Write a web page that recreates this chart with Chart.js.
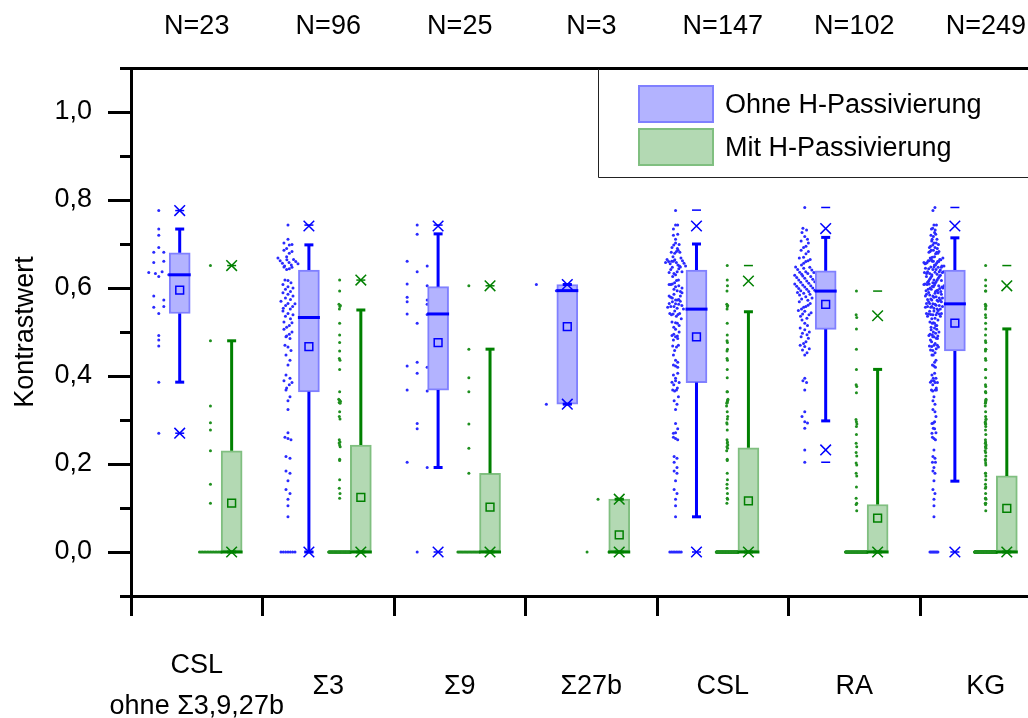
<!DOCTYPE html>
<html>
<head>
<meta charset="utf-8">
<script src="https://cdn.jsdelivr.net/npm/chart.js@4.4.0/dist/chart.umd.min.js"></script>
<style>
  html, body { margin: 0; padding: 0; background: #fff; overflow: hidden; }
  #wrap { width: 1028px; height: 718px; position: relative; }
  #wrap canvas { display: block; }
</style>
</head>
<body>
<div id="wrap"><canvas id="boxChart"></canvas></div>
<script>
// Categories / labels
const categories = [['CSL', 'ohne Σ3,9,27b'], 'Σ3', 'Σ9', 'Σ27b', 'CSL', 'RA', 'KG'];
const nLabels = ['N=23', 'N=96', 'N=25', 'N=3', 'N=147', 'N=102', 'N=249'];
const yTicks = [0, 0.2, 0.4, 0.6, 0.8, 1.0];
const yTickLabels = ['0,0', '0,2', '0,4', '0,6', '0,8', '1,0'];
const yMinorTicks = [-0.1, 0.1, 0.3, 0.5, 0.7, 0.9, 1.1];
const legendLabels = ['Ohne H-Passivierung', 'Mit H-Passivierung'];

// Single values, ohne H-Passivierung
const ohneCSLrest = [0.776, 0.734, 0.720, 0.692, 0.681, 0.658, 0.681, 0.661, 0.626, 0.635, 0.630, 0.637,
  0.633, 0.582, 0.573, 0.556, 0.558, 0.542, 0.492, 0.482, 0.468, 0.386, 0.270];
const ohneS3 = [0.743, 0.711, 0.702, 0.699, 0.698, 0.690, 0.686, 0.683, 0.679, 0.671, 0.668, 0.665,
  0.664, 0.662, 0.660, 0.658, 0.656, 0.655, 0.652, 0.650, 0.648, 0.647, 0.644, 0.642,
  0.618, 0.617, 0.612, 0.608, 0.603, 0.600, 0.597, 0.592, 0.589, 0.586, 0.582, 0.577,
  0.574, 0.570, 0.565, 0.564, 0.560, 0.558, 0.554, 0.552, 0.548, 0.542, 0.539, 0.536,
  0.530, 0.523, 0.521, 0.515, 0.511, 0.506, 0.500, 0.495, 0.491, 0.489, 0.485, 0.470,
  0.466, 0.458, 0.448, 0.436, 0.425, 0.402, 0.395, 0.389, 0.385, 0.380, 0.373, 0.368,
  0.353, 0.344, 0.324, 0.271, 0.261, 0.258, 0.255, 0.217, 0.213, 0.184, 0.179, 0.162,
  0.142, 0.133, 0.120, 0.105, 0.080, 0, 0, 0, 0, 0, 0, 0];
const ohneS9 = [0.743, 0.722, 0.661, 0.650, 0.637, 0.609, 0.605, 0.579, 0.573, 0.569, 0.563, 0.541,
  0.540, 0.520, 0.431, 0.423, 0.420, 0.406, 0.368, 0.366, 0.292, 0.280, 0.204, 0.192, 0];
const ohneS27b = [0.608, 0.594, 0.336];
const ohneRA = [0.783, 0.736, 0.732, 0.726, 0.717, 0.711, 0.707, 0.702, 0.695, 0.692, 0.686, 0.683,
  0.678, 0.670, 0.668, 0.665, 0.662, 0.660, 0.656, 0.652, 0.648, 0.647, 0.645, 0.642, 0.641,
  0.637, 0.636, 0.635, 0.633, 0.631, 0.629, 0.627, 0.626, 0.624, 0.622, 0.620, 0.618, 0.616,
  0.614, 0.613, 0.611, 0.609, 0.607, 0.605, 0.604, 0.602, 0.600, 0.599, 0.597, 0.595, 0.594,
  0.592, 0.590, 0.588, 0.586, 0.584, 0.580, 0.577, 0.575, 0.572, 0.569, 0.565, 0.561, 0.558,
  0.556, 0.552, 0.549, 0.547, 0.544, 0.541, 0.539, 0.536, 0.531, 0.527, 0.520, 0.515, 0.509,
  0.505, 0.500, 0.497, 0.494, 0.489, 0.486, 0.478, 0.474, 0.470, 0.467, 0.462, 0.459, 0.453,
  0.448, 0.395, 0.389, 0.385, 0.368, 0.319, 0.308, 0.296, 0.293, 0.281, 0.232, 0.204];

// Single values, mit H-Passivierung
const mitCSLrest = [0.651, 0.480, 0.332, 0.294, 0.277, 0.230, 0.154, 0.111,
  0, 0, 0, 0, 0, 0, 0, 0, 0, 0, 0, 0, 0, 0, 0];
const mitS3 = [0.618, 0.593, 0.563, 0.560, 0.558, 0.552, 0.520, 0.493, 0.476, 0.457, 0.440, 0.436,
  0.415, 0.364, 0.347, 0.345, 0.342, 0.340, 0.338, 0.319, 0.308, 0.302, 0.255, 0.250,
  0.248, 0.243, 0.239, 0.211, 0.208, 0.164, 0.145, 0.133, 0.122,
  0, 0, 0, 0, 0, 0, 0, 0, 0, 0, 0, 0, 0, 0, 0, 0, 0, 0, 0, 0, 0,
  0, 0, 0, 0, 0, 0, 0, 0, 0, 0, 0, 0, 0, 0, 0, 0, 0, 0, 0, 0, 0,
  0, 0, 0, 0, 0, 0, 0, 0, 0, 0, 0, 0, 0, 0, 0, 0, 0, 0, 0, 0, 0];
const mitS9 = [0.605, 0.461, 0.396, 0.364, 0.291, 0.236, 0.179,
  0, 0, 0, 0, 0, 0, 0, 0, 0, 0, 0, 0, 0, 0, 0, 0, 0, 0];
const mitS27b = [0.120, 0, 0];
const mitRA = [0.593, 0.539, 0.533, 0.507, 0.461, 0.415, 0.380, 0.376, 0.362, 0.301, 0.296, 0.291,
  0.285, 0.267, 0.247, 0.239, 0.226, 0.218, 0.202, 0.198, 0.179, 0.173, 0.148, 0.122, 0.111,
  0.108, 0.094,
  0, 0, 0, 0, 0, 0, 0, 0, 0, 0, 0, 0, 0, 0, 0, 0, 0, 0, 0, 0, 0, 0, 0, 0, 0,
  0, 0, 0, 0, 0, 0, 0, 0, 0, 0, 0, 0, 0, 0, 0, 0, 0, 0, 0, 0, 0, 0, 0, 0, 0,
  0, 0, 0, 0, 0, 0, 0, 0, 0, 0, 0, 0, 0, 0, 0, 0, 0, 0, 0, 0, 0, 0, 0, 0, 0];

// CSL = the four CSL groups together, KG = CSL + RA
const ohneCSL = [...ohneCSLrest, ...ohneS3, ...ohneS9, ...ohneS27b];
const ohneKG = [...ohneCSL, ...ohneRA];
const mitCSL = [...mitCSLrest, ...mitS3, ...mitS9, ...mitS27b];
const mitKG = [...mitCSL, ...mitRA];

// Box statistics
const ohneQ1 = [0.542, 0.364, 0.368, 0.336, 0.385, 0.506, 0.457];
const ohneMedian = [0.630, 0.533, 0.541, 0.594, 0.552, 0.593, 0.564];
const ohneQ3 = [0.680, 0.641, 0.603, 0.608, 0.641, 0.639, 0.641];
const ohneMean = [0.595, 0.467, 0.476, 0.512, 0.489, 0.563, 0.520];
const ohneWhiskerLo = [0.386, 0.000, 0.192, 0.336, 0.080, 0.298, 0.161];
const ohneWhiskerHi = [0.734, 0.698, 0.723, 0.608, 0.700, 0.715, 0.714];
const ohneP1 = [0.270, 0.000, 0.000, 0.336, 0.000, 0.232, 0.000];
const ohneP99 = [0.776, 0.741, 0.741, 0.608, 0.741, 0.735, 0.741];
const ohneMin = [0.270, 0.000, 0.000, 0.336, 0.000, 0.204, 0.000];
const ohneMax = [0.776, 0.743, 0.743, 0.608, 0.777, 0.783, 0.783];

const mitQ1 = [0, 0, 0, 0, 0, 0, 0];
const mitMedian = [0, 0, 0, 0, 0, 0, 0];
const mitQ3 = [0.230, 0.243, 0.179, 0.120, 0.237, 0.108, 0.173];
const mitMean = [0.111, 0.124, 0.102, 0.039, 0.116, 0.077, 0.099];
const mitWhiskerLo = [0, 0, 0, 0, 0, 0, 0];
const mitWhiskerHi = [0.480, 0.550, 0.461, 0.120, 0.546, 0.415, 0.507];
const mitP1 = [0, 0, 0, 0, 0, 0, 0];
const mitP99 = [0.651, 0.618, 0.605, 0.120, 0.616, 0.537, 0.605];
const mitMin = [0, 0, 0, 0, 0, 0, 0];
const mitMax = [0.651, 0.618, 0.605, 0.120, 0.651, 0.593, 0.651];

const ohneGroups = [ohneCSLrest, ohneS3, ohneS9, ohneS27b, ohneCSL, ohneRA, ohneKG];
const mitGroups = [mitCSLrest, mitS3, mitS9, mitS27b, mitCSL, mitRA, mitKG];

// Colours
const BLUE = '#0000ff';
const GREEN = '#008000';
const BLUE_DOT = '#2a2aff';
const GREEN_DOT = '#1f8f1f';
const BLUE_FILL = 'rgb(179,179,255)';
const BLUE_EDGE = 'rgb(128,128,255)';
const GREEN_FILL = 'rgb(179,217,179)';
const GREEN_EDGE = 'rgb(128,191,128)';

// Layout of the groups on the x axis
const X_MAX = 6.943;      // data axis
const LABEL_MAX = 6.821;  // axis with the group labels and ticks
const BOX_OFF = [0.377, 0.779];
const DOT_OFF = [0.215, 0.615];
const BIN = 0.02;

function gcd(a, b) { return b ? gcd(b, a % b) : a; }

// spreads points sideways when several fall into the same value bin
function swarm(values, center, maxW) {
  const counts = {};
  values.forEach(v => {
    const b = Math.round(v / BIN);
    counts[b] = (counts[b] || 0) + 1;
  });
  const nmax = Math.max(...Object.values(counts));
  const seen = {};
  return values.map(v => {
    const b = Math.round(v / BIN);
    const n = counts[b];
    const k = seen[b] || 0;
    seen[b] = k + 1;
    let dx = 0;
    if (n > 1) {
      let s = Math.max(1, Math.round(n * 0.38));
      while (gcd(s, n) !== 1) s++;
      const slot = (k * s) % n;
      const w = maxW * n / nmax;
      dx = -w / 2 + slot * w / (n - 1);
    }
    return { x: center + dx, y: v };
  });
}

const at = (vals, off) => vals.map((v, g) => ({ x: g + off, y: v }));

function whiskers(q1, q3, lo, hi, off) {
  const pts = [];
  q1.forEach((_, g) => {
    const x = g + off;
    pts.push({ x, y: q3[g] }, { x, y: hi[g] }, { x, y: null },
             { x, y: q1[g] }, { x, y: lo[g] }, { x, y: null });
  });
  return pts;
}

function seriesSets(s) {
  const base = { type: 'scatter', xAxisID: 'x', yAxisID: 'y', clip: 12 };
  return [
    Object.assign({}, base, {
      data: s.groups.flatMap((vals, g) => swarm(vals, g + DOT_OFF[s.i], s.swarmW)),
      pointRadius: 1.5, pointBackgroundColor: s.dot, pointBorderWidth: 0, order: 10
    }),
    {
      type: 'bar', xAxisID: 'x', yAxisID: 'y', label: s.label, isLegend: true,
      data: s.q1.map((v, g) => ({ x: g + BOX_OFF[s.i], y: [v, s.q3[g]] })),
      backgroundColor: s.fill, borderColor: s.edge, borderWidth: 2,
      borderSkipped: false, barThickness: 21, grouped: false, order: 9
    },
    Object.assign({}, base, {
      data: whiskers(s.q1, s.q3, s.lo, s.hi, BOX_OFF[s.i]), showLine: true, spanGaps: false,
      borderColor: s.line, borderWidth: 3, pointRadius: 0, order: 8
    }),
    Object.assign({}, base, {
      data: [...at(s.lo, BOX_OFF[s.i]), ...at(s.hi, BOX_OFF[s.i])],
      pointStyle: 'line', pointRadius: 4.5, pointBorderWidth: 3, pointBorderColor: s.line, order: 7
    }),
    Object.assign({}, base, {
      data: at(s.median, BOX_OFF[s.i]),
      pointStyle: 'line', pointRadius: 11, pointBorderWidth: 3, pointBorderColor: s.line, order: 6
    }),
    Object.assign({}, base, {
      data: at(s.mean, BOX_OFF[s.i]),
      pointStyle: 'rect', pointRadius: 5.5, pointBorderWidth: 1.5,
      pointBorderColor: s.line, pointBackgroundColor: 'rgba(0,0,0,0)', order: 5
    }),
    Object.assign({}, base, {
      data: [...at(s.p1, BOX_OFF[s.i]), ...at(s.p99, BOX_OFF[s.i])],
      pointStyle: 'crossRot', pointRadius: 7.5, pointBorderWidth: 1.5, pointBorderColor: s.line, order: 4
    }),
    Object.assign({}, base, {
      data: [...at(s.min, BOX_OFF[s.i]), ...at(s.max, BOX_OFF[s.i])],
      pointStyle: 'line', pointRadius: 4.5, pointBorderWidth: 1.5, pointBorderColor: s.line, order: 3
    })
  ];
}

const datasets = [
  ...seriesSets({
    i: 0, label: legendLabels[0], groups: ohneGroups, swarmW: 0.155,
    q1: ohneQ1, q3: ohneQ3, median: ohneMedian, mean: ohneMean, lo: ohneWhiskerLo, hi: ohneWhiskerHi,
    p1: ohneP1, p99: ohneP99, min: ohneMin, max: ohneMax,
    dot: BLUE_DOT, line: BLUE, fill: BLUE_FILL, edge: BLUE_EDGE
  }),
  ...seriesSets({
    i: 1, label: legendLabels[1], groups: mitGroups, swarmW: 0.17,
    q1: mitQ1, q3: mitQ3, median: mitMedian, mean: mitMean, lo: mitWhiskerLo, hi: mitWhiskerHi,
    p1: mitP1, p99: mitP99, min: mitMin, max: mitMax,
    dot: GREEN_DOT, line: GREEN, fill: GREEN_FILL, edge: GREEN_EDGE
  })
];

const majorIndex = v => yTicks.findIndex(t => Math.abs(t - v) < 1e-9);

// Legend box in the upper right corner of the plot
const legendBox = {
  id: 'legendBox',
  afterDraw(chart) {
    const ctx = chart.ctx;
    const items = chart.data.datasets.filter(d => d.isLegend);
    ctx.save();
    ctx.fillStyle = '#fff';
    ctx.fillRect(599, 70, 440, 107);
    ctx.strokeStyle = '#222';
    ctx.lineWidth = 1;
    ctx.beginPath();
    ctx.moveTo(598.5, 69);
    ctx.lineTo(598.5, 177.5);
    ctx.lineTo(1028, 177.5);
    ctx.stroke();
    ctx.font = '27px "Liberation Sans", Arial, sans-serif';
    ctx.textBaseline = 'alphabetic';
    items.forEach((d, i) => {
      const top = 85 + i * 43;
      ctx.fillStyle = d.borderColor;
      ctx.fillRect(638, top, 76, 38);
      ctx.fillStyle = d.backgroundColor;
      ctx.fillRect(640, top + 2, 72, 34);
      ctx.fillStyle = '#000';
      ctx.fillText(d.label, 725, top + 28);
    });
    ctx.restore();
  }
};

Chart.defaults.font.family = '"Liberation Sans", Arial, sans-serif';
Chart.defaults.font.size = 27;
Chart.defaults.color = '#000';

new Chart(document.getElementById('boxChart'), {
  type: 'scatter',
  data: { datasets },
  options: {
    responsive: true,
    maintainAspectRatio: false,
    animation: false,
    events: [],
    layout: { padding: 0, autoPadding: false },
    plugins: {
      legend: { display: false },
      tooltip: { enabled: false }
    },
    scales: {
      x: { type: 'linear', min: 0, max: X_MAX, display: false, offset: false, grid: { offset: false } },
      xt: {
        axis: 'x', type: 'linear', position: 'top', min: 0, max: LABEL_MAX,
        afterBuildTicks: s => { s.ticks = nLabels.map((_, i) => ({ value: i + 0.5 })); },
        afterFit: s => { s.height = 68; s.paddingLeft = 0; s.paddingRight = 0; },
        ticks: { autoSkip: false, maxRotation: 0, minRotation: 0, padding: 25,
                 callback: (v, i) => nLabels[i] },
        grid: { drawOnChartArea: false, drawTicks: false },
        border: { color: '#000', width: 3 }
      },
      xb: {
        axis: 'x', type: 'linear', position: 'bottom', min: 0, max: LABEL_MAX,
        afterBuildTicks: s => {
          const t = [];
          categories.forEach((_, i) => { t.push({ value: i }, { value: i + 0.5 }); });
          s.ticks = t;
        },
        afterFit: s => { s.height = 122; s.paddingLeft = 0; s.paddingRight = 0; },
        ticks: {
          autoSkip: false, maxRotation: 0, minRotation: 0, padding: 50, crossAlign: 'center',
          font: { size: 27, lineHeight: 1.5 },
          callback: v => Number.isInteger(v) ? '' : categories[Math.floor(v)]
        },
        grid: {
          drawOnChartArea: false, tickLength: 20, tickWidth: 3,
          tickColor: c => (c.tick && Number.isInteger(c.tick.value)) ? '#000' : 'rgba(0,0,0,0)'
        },
        border: { color: '#000', width: 3 }
      },
      y: {
        type: 'linear', position: 'left', min: -0.1, max: 1.1,
        afterBuildTicks: s => {
          s.ticks = [...yMinorTicks, ...yTicks].sort((a, b) => a - b).map(v => ({ value: v }));
        },
        afterFit: s => { s.width = 131; },
        ticks: {
          padding: 16,
          callback: v => { const k = majorIndex(v); return k >= 0 ? yTickLabels[k] : ''; }
        },
        grid: {
          drawOnChartArea: false, tickLength: 23, tickWidth: 3, tickColor: '#000',
          // minor ticks: only the part next to the axis is drawn
          tickBorderDash: c => (c.tick && majorIndex(c.tick.value) >= 0) ? [] : [11, 12],
          tickBorderDashOffset: c => (c.tick && majorIndex(c.tick.value) >= 0) ? 0 : 11
        },
        border: { color: '#000', width: 3 },
        title: { display: true, text: 'Kontrastwert', font: { size: 27 }, padding: { top: 9, bottom: 0 } }
      }
    }
  },
  plugins: [legendBox]
});
</script>
</body>
</html>
